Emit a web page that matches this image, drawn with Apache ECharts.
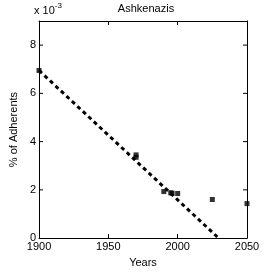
<!DOCTYPE html>
<html><head><meta charset="utf-8">
<script src="https://cdn.jsdelivr.net/npm/echarts@6/dist/echarts.min.js"></script>
<style>html,body{margin:0;padding:0;background:#fff}#c{width:273px;height:273px}</style>
</head><body><div id="c"></div>
<script>
const years = [1900, 1970, 1970, 1990, 1995, 1996, 2000, 2025, 2050];
const adherents = [6.95, 3.35, 3.45, 1.93, 1.88, 1.86, 1.85, 1.6, 1.43]; // x 10^-3
const trendYears = [1900, 2029.5];
const trendValues = [6.95, 0];
const xTicks = [1900, 1950, 2000, 2050];
const yTicks = [0, 2, 4, 6, 8];

const font = 'Liberation Sans';
const chart = echarts.init(document.getElementById('c'), null, {renderer: 'canvas'});
const axisLine = {show: true, onZero: false, lineStyle: {color: '#000', width: 1}};
const tick = {show: true, inside: true, length: 4, lineStyle: {color: '#000'}};
chart.setOption({
  animation: false,
  backgroundColor: '#fff',
  title: [
    {text: 'Ashkenazis', left: 141, top: -2, textAlign: 'center',
     textStyle: {fontFamily: font, fontSize: 11, fontWeight: 'normal', color: '#000'}},
    {text: '{a|x 10}{b|-3}', left: 34, top: 2, padding: 0,
     textStyle: {fontWeight: 'normal', rich: {
       a: {fontFamily: font, fontSize: 11, fontWeight: 'normal', color: '#000', verticalAlign: 'bottom'},
       b: {fontFamily: font, fontSize: 8, fontWeight: 'normal', color: '#000', verticalAlign: 'top', padding: [0,0,6,0]}}}}
  ],
  grid: {left: 36, right: 26, top: 21, bottom: 31},
  xAxis: [
    {type: 'value', min: 1900, max: 2050, interval: 50, position: 'bottom',
     name: 'Years', nameLocation: 'middle', nameGap: 18,
     nameTextStyle: {fontFamily: font, fontSize: 11, color: '#000'},
     axisLine, axisTick: tick, splitLine: {show: false},
     axisLabel: {fontFamily: font, fontSize: 11, color: '#000', margin: 3,
       formatter: v => xTicks.includes(v) ? String(v) : ''}},
    {type: 'value', min: 1900, max: 2050, interval: 50, position: 'top',
     axisLine, axisTick: tick, splitLine: {show: false}, axisLabel: {show: false}}
  ],
  yAxis: [
    {type: 'value', min: 0, max: 9, interval: 1, position: 'left',
     name: '% of Adherents', nameLocation: 'middle', nameGap: 18,
     nameTextStyle: {fontFamily: font, fontSize: 11, color: '#000'},
     axisLine, axisTick: {show: false}, splitLine: {show: false},
     axisLabel: {fontFamily: font, fontSize: 11, color: '#000', margin: 3,
       formatter: v => yTicks.includes(v) ? String(v) : ''}},
    {type: 'value', min: 0, max: 9, interval: 1, position: 'right',
     axisLine, axisTick: {show: false}, splitLine: {show: false}, axisLabel: {show: false}}
  ],
  series: [
    {type: 'line', data: trendYears.map((x, i) => [x, trendValues[i]]), showSymbol: false, symbol: 'none',
     lineStyle: {color: '#000', width: 3, type: [4, 3.5]}, silent: true},
    {type: 'scatter', data: years.map((x, i) => [x, adherents[i]]), symbol: 'rect', symbolSize: 5,
     itemStyle: {color: '#000'}, clip: false}
  ]
});
// inside ticks on both y axes at labelled values
const g = [];
yTicks.forEach(v => {
  if (v === 0) return;
  const p = chart.convertToPixel({xAxisIndex: 0, yAxisIndex: 0}, [1900, v]);
  const q = chart.convertToPixel({xAxisIndex: 0, yAxisIndex: 0}, [2050, v]);
  g.push({type: 'line', shape: {x1: p[0], y1: p[1], x2: p[0] + 4, y2: p[1]}, style: {stroke: '#000', lineWidth: 1}});
  g.push({type: 'line', shape: {x1: q[0], y1: q[1], x2: q[0] - 4, y2: q[1]}, style: {stroke: '#000', lineWidth: 1}});
});
chart.setOption({graphic: g});
</script></body></html>
